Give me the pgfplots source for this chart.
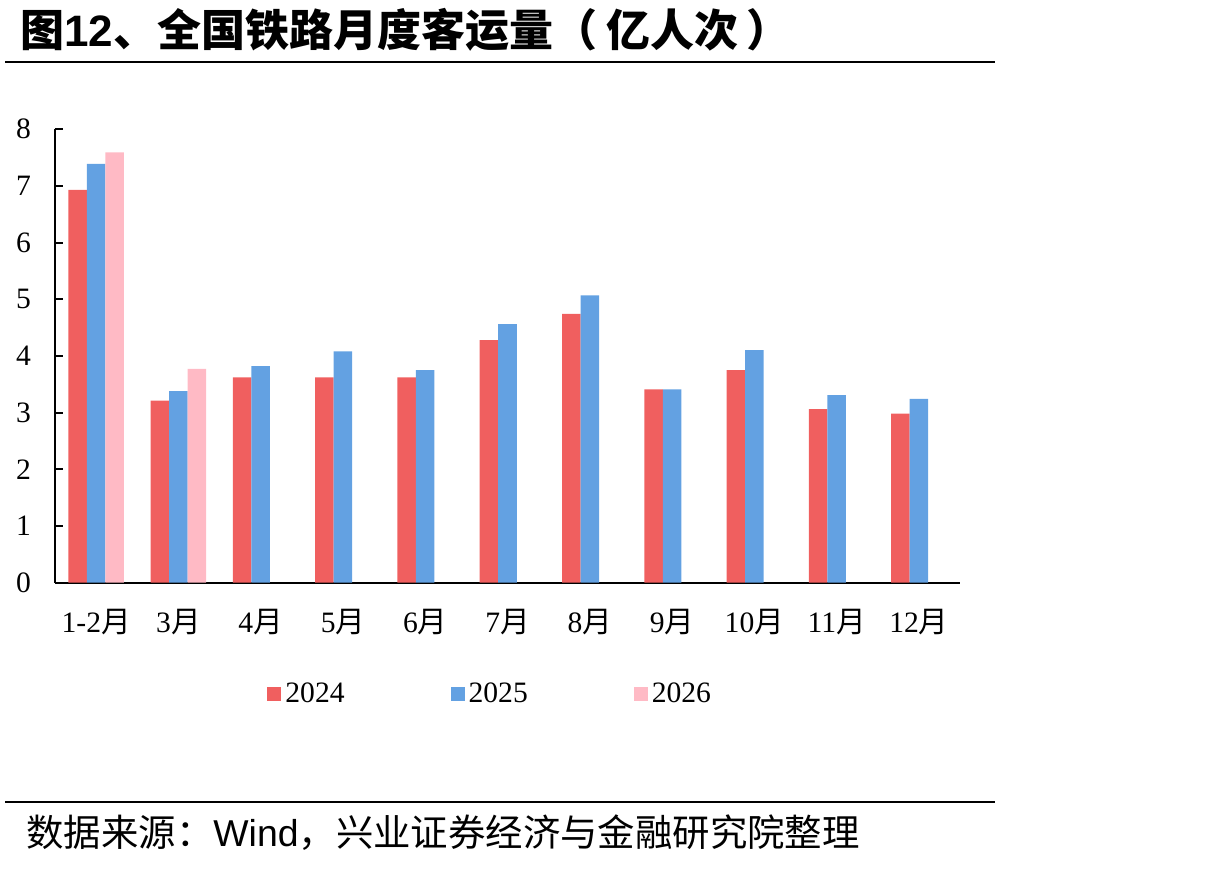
\documentclass[border=0pt]{standalone}
\usepackage{fontspec}
\setmainfont{Liberation Serif}
\newfontfamily\cjk{Noto Sans CJK SC}
\newfontfamily\arial{Liberation Sans}
\usepackage{pgfplots}
\pgfplotsset{compat=1.18}
\definecolor{c24}{HTML}{F05F5F}
\definecolor{c25}{HTML}{63A1E2}
\definecolor{c26}{HTML}{FFBAC5}
\begin{document}
\begin{tikzpicture}
\useasboundingbox (0,0) rectangle (605pt,-434pt);
\node[anchor=west, inner sep=0pt, font=\cjk\bfseries\fontsize{22pt}{26pt}\selectfont] at (10pt,-15pt) {图{\arial\bfseries 12}、全国铁路月度客运量（\hspace{0.2em}亿人次\hspace{0.2em}）};
\draw[line width=1pt] (2.5pt,-31pt) -- (497.5pt,-31pt);
\draw[line width=1pt] (2.5pt,-401pt) -- (497.5pt,-401pt);
\node[anchor=west, inner sep=0pt, font=\cjk\fontsize{18.7pt}{22pt}\selectfont] at (13pt,-416.5pt) {数据来源：{\arial Wind}，兴业证券经济与金融研究院整理};
\begin{axis}[
  at={(27.5pt,-291.3pt)}, anchor=south west,
  scale only axis, width=452.5pt, height=226.7pt,
  ymin=0, ymax=8, xmin=-0.5, xmax=10.5,
  ytick={0,1,...,8}, xtick={0,1,...,10},
  xticklabels={{1-2{\cjk 月}},{3{\cjk 月}},{4{\cjk 月}},{5{\cjk 月}},{6{\cjk 月}},{7{\cjk 月}},{8{\cjk 月}},{9{\cjk 月}},{10{\cjk 月}},{11{\cjk 月}},{12{\cjk 月}}},
  axis x line*=bottom, axis y line*=left,
  axis line style={line width=1pt, black},
  xtick style={draw=none},
  ytick style={line width=1pt, black},
  tick align=inside, major tick length=4pt,
  /pgf/number format/assume math mode=true,
  ticklabel style={font=\fontsize{14.8pt}{16pt}\selectfont},
  yticklabel style={xshift=-8.5pt},
  xticklabel style={yshift=-6pt},
  ybar, bar width=0.225,
  legend columns=3,
  legend style={at={(0.482,-0.245)}, anchor=center, draw=none,
    font=\fontsize{14.8pt}{16pt}\selectfont,
    /tikz/every even column/.append style={column sep=51pt}},
  legend image code/.code={\fill[#1] (0pt,-3.5pt) rectangle (7pt,3.5pt);},
]
\addplot[fill=c24, draw=none, bar shift=-0.225] coordinates {(0,6.93) (1,3.21) (2,3.62) (3,3.62) (4,3.62) (5,4.28) (6,4.74) (7,3.41) (8,3.75) (9,3.06) (10,2.98)};
\addplot[fill=c25, draw=none, bar shift=0] coordinates {(0,7.39) (1,3.38) (2,3.82) (3,4.08) (4,3.75) (5,4.56) (6,5.07) (7,3.41) (8,4.10) (9,3.31) (10,3.24)};
\addplot[fill=c26, draw=none, bar shift=0.225] coordinates {(0,7.59) (1,3.77)};
\legend{2024,2025,2026}
\end{axis}
\end{tikzpicture}
\end{document}
